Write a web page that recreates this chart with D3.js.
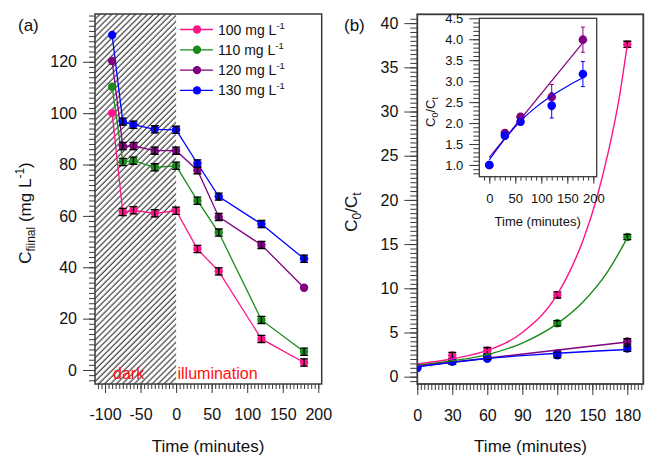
<!DOCTYPE html>
<html><head><meta charset="utf-8">
<script src="https://cdn.jsdelivr.net/npm/d3@7"></script>
<style>body{margin:0;background:#fff}svg{display:block;font-family:"Liberation Sans",Arial,sans-serif}</style>
</head><body><svg id="c" width="646" height="455"></svg>
<script>
// ---------- data ----------
const seriesLabels = ["100 mg L", "110 mg L", "120 mg L", "130 mg L"];
const seriesColors = ["#ff1489", "#1a8a1a", "#800080", "#0000ff"];

// panel (a): concentration vs time (dark -90..0, illumination 0..180)
const timeA = [-90, -75, -60, -30, 0, 30, 60, 120, 180];
const concA100 = [100, 61.5, 62.2, 61, 62, 47.1, 38.4, 12.1, 2.9];
const concA110 = [110.3, 81, 81.5, 78.9, 79.5, 65.9, 53.5, 19.5, 7.1];
const concA120 = [120.3, 87.2, 87.2, 85.4, 85.4, 77.8, 59.6, 48.7, 32];
const concA130 = [130.4, 96.7, 95.5, 93.7, 93.5, 80.4, 67.5, 56.8, 43.3];
const errA100 = [0, 1.4, 1.4, 1.4, 1.4, 1.4, 1.4, 1.4, 1.4];
const errA110 = [0, 1.4, 1.4, 1.4, 1.4, 1.4, 1.4, 1.4, 1.4];
const errA120 = [0, 1.4, 1.4, 1.4, 1.4, 1.4, 1.4, 1.4, 0];
const errA130 = [0, 1.4, 1.4, 1.4, 1.4, 1.4, 1.4, 1.4, 1.4];

// panel (b): C0/Ct vs time
const timeB = [0, 30, 60, 120, 180];
const ratioB100 = [1, 2.4, 2.95, 9.25, 37.6];
const ratioB110 = [1, 1.68, 2.2, 6.04, 15.8];
const ratioB120 = [1, 1.76, 2.15, 2.62, 3.99];
const ratioB130 = [1, 1.7, 2.03, 2.42, 3.17];
const errB100 = [0, 0.35, 0.35, 0.35, 0.35];
const errB110 = [0, 0.3, 0.3, 0.3, 0.3];
const errB120 = [0, 0.08, 0.08, 0.3, 0.3];
const errB130 = [0, 0.08, 0.08, 0.3, 0.3];

// fitted curves
const fitT100 = [0, 30, 60, 90, 120, 131, 142, 154, 164, 173, 180];
const fitV100 = [1.45, 2.03, 2.97, 5.0, 9.3, 12.0, 15.4, 20.3, 25.6, 31.5, 37.6];
const fitT110 = [0, 30, 60, 90, 120, 142, 162, 180];
const fitV110 = [1.3, 1.8, 2.5, 3.8, 6.0, 8.45, 11.65, 15.7];
const fitT120 = [0, 180];
const fitV120 = [1.18, 3.92];
const fitT130 = [0, 30, 60, 90, 120, 150, 180];
const fitV130 = [1.12, 1.62, 2.05, 2.38, 2.65, 2.88, 3.08];

// tick labels
const ticksAX = [-100, -50, 0, 50, 100, 150, 200];
const ticksAY = [0, 20, 40, 60, 80, 100, 120];
const ticksBX = [0, 30, 60, 90, 120, 150, 180];
const ticksBY = [0, 5, 10, 15, 20, 25, 30, 35, 40];
const ticksIX = [0, 50, 100, 150, 200];
const ticksIY = [1.0, 1.5, 2.0, 2.5, 3.0, 3.5, 4.0, 4.5];

// ---------- drawing ----------
const svg = d3.select("#c");
const FRAME = "#3a3a3a";
const zip = (t, v, e) => t.map((d, i) => ({t: d, v: v[i], e: e ? e[i] : 0}));

const seriesA = [zip(timeA, concA100, errA100), zip(timeA, concA110, errA110), zip(timeA, concA120, errA120), zip(timeA, concA130, errA130)];
const seriesB = [zip(timeB, ratioB100, errB100), zip(timeB, ratioB110, errB110), zip(timeB, ratioB120, errB120), zip(timeB, ratioB130, errB130)];
const fitsB = [zip(fitT100, fitV100), zip(fitT110, fitV110), zip(fitT120, fitV120), zip(fitT130, fitV130)];

function axes(x, y, o) {
  const [x0, x1] = x.range(), [y1, y0] = y.range();
  const g = svg.append("g");
  g.append("g").attr("transform", `translate(${x0},0)`)
    .call(d3.axisLeft(y).tickValues(o.minorY).tickSize(o.ySizeMinor).tickFormat(""))
    .call(s => s.select(".domain").remove());
  g.append("g").attr("transform", `translate(0,${y1})`)
    .call(d3.axisBottom(x).tickValues(o.minorX).tickSize(o.xSizeMinor).tickFormat(""))
    .call(s => s.select(".domain").remove());
  g.append("g").attr("transform", `translate(${x0},0)`)
    .call(d3.axisLeft(y).tickValues(o.ticksY).tickSize(o.ySize).tickPadding(o.yPad).tickFormat(o.fmtY || (d => d)))
    .call(s => s.select(".domain").remove());
  g.append("g").attr("transform", `translate(0,${y1})`)
    .call(d3.axisBottom(x).tickValues(o.ticksX).tickSize(o.xSize).tickPadding(o.xPad).tickFormat(d => d))
    .call(s => s.select(".domain").remove());
  g.selectAll(".tick line").attr("stroke", FRAME).attr("stroke-width", 1);
  g.selectAll(".tick text").attr("font-size", o.fs).attr("fill", "#111")
    .attr("font-family", '"Liberation Sans",Arial,sans-serif');
  g.append("rect").attr("x", x0).attr("y", y0).attr("width", x1 - x0).attr("height", y1 - y0)
    .attr("fill", "none").attr("stroke", FRAME).attr("stroke-width", o.fw);
  return g;
}

function markers(g, data, x, y, color, r, errColor, capW) {
  const gg = g.append("g");
  gg.selectAll("circle").data(data).join("circle")
    .attr("cx", d => x(d.t)).attr("cy", d => y(d.v)).attr("r", r).attr("fill", color);
  const eb = gg.selectAll("g.eb").data(data.filter(d => d.e > 0)).join("g").attr("class", "eb")
    .attr("stroke", errColor).attr("stroke-width", 1.3);
  eb.append("line").attr("x1", d => x(d.t)).attr("x2", d => x(d.t))
    .attr("y1", d => y(d.v - d.e)).attr("y2", d => y(d.v + d.e));
  eb.append("line").attr("x1", d => x(d.t) - capW).attr("x2", d => x(d.t) + capW)
    .attr("y1", d => y(d.v - d.e)).attr("y2", d => y(d.v - d.e));
  eb.append("line").attr("x1", d => x(d.t) - capW).attr("x2", d => x(d.t) + capW)
    .attr("y1", d => y(d.v + d.e)).attr("y2", d => y(d.v + d.e));
}

// ===== panel (a) =====
const xA = d3.scaleLinear().domain([-114.1, 204.8]).range([95, 321.7]);
const yA = d3.scaleLinear().domain([-5.45, 138.6]).range([384, 14]);

const defs = svg.append("defs");
const pat = defs.append("pattern").attr("id", "hatch").attr("patternUnits", "userSpaceOnUse")
  .attr("width", 4.2).attr("height", 4.2).attr("patternTransform", "rotate(45)");
pat.append("line").attr("x1", 1).attr("y1", 0).attr("x2", 1).attr("y2", 4.2)
  .attr("stroke", "#1a1a1a").attr("stroke-width", 1);
defs.append("clipPath").attr("id", "clipA").append("rect")
  .attr("x", 95).attr("y", 14).attr("width", 226.7).attr("height", 370);

svg.append("rect").attr("x", xA(xA.domain()[0])).attr("y", yA(yA.domain()[1]))
  .attr("width", xA(0) - xA(xA.domain()[0])).attr("height", yA(yA.domain()[0]) - yA(yA.domain()[1]))
  .attr("fill", "url(#hatch)");

axes(xA, yA, {
  ticksX: ticksAX, ticksY: ticksAY,
  minorX: d3.range(-110, 205, 5), minorY: d3.range(-4, 139, 2),
  xSize: 9, xSizeMinor: 5, ySize: 12, ySizeMinor: 6, xPad: 16, yPad: 6, fs: 16, fw: 1.5
});

const gA = svg.append("g").attr("clip-path", "url(#clipA)");
const lineA = d3.line().x(d => xA(d.t)).y(d => yA(d.v));
seriesA.forEach((s, i) => {
  gA.append("path").attr("d", lineA(s)).attr("fill", "none").attr("stroke", seriesColors[i]).attr("stroke-width", 1.3);
});
seriesA.forEach((s, i) => markers(gA, s, xA, yA, seriesColors[i], 4.2, "#000", 4));

svg.append("text").attr("x", 113).attr("y", 379).attr("font-size", 16).attr("fill", "#ff1010").text("dark");
svg.append("text").attr("x", 177.5).attr("y", 379).attr("font-size", 16).attr("fill", "#ff1010").text("illumination");

// legend
const leg = svg.append("g");
seriesLabels.forEach((lab, i) => {
  const yy = 29.5 + i * 20.3;
  leg.append("line").attr("x1", 180).attr("x2", 213).attr("y1", yy).attr("y2", yy)
    .attr("stroke", seriesColors[i]).attr("stroke-width", 1.3);
  leg.append("circle").attr("cx", 197).attr("cy", yy).attr("r", 4.2).attr("fill", seriesColors[i]);
  const t = leg.append("text").attr("x", 218).attr("y", yy + 5).attr("font-size", 14).attr("fill", "#111");
  t.append("tspan").text(lab);
  t.append("tspan").attr("dy", -6).attr("font-size", 9.5).text("-1");
});

svg.append("text").attr("x", 18).attr("y", 31).attr("font-size", 17).attr("fill", "#111").text("(a)");
svg.append("text").attr("x", xA(45)).attr("y", 452).attr("text-anchor", "middle").attr("font-size", 17)
  .attr("fill", "#111").text("Time (minutes)");
{
  const t = svg.append("text").attr("transform", "translate(31,213) rotate(-90)")
    .attr("text-anchor", "middle").attr("font-size", 17).attr("fill", "#111");
  t.append("tspan").text("C");
  t.append("tspan").attr("dy", 4).attr("font-size", 12).text("fiinal");
  t.append("tspan").attr("dy", -4).text(" (mg L");
  t.append("tspan").attr("dy", -7).attr("font-size", 12).text("-1");
  t.append("tspan").attr("dy", 7).text(")");
}

// ===== panel (b) =====
const xB = d3.scaleLinear().domain([0, 193.7]).range([417.3, 643.3]);
const yB = d3.scaleLinear().domain([-0.83, 41.0]).range([384, 14.3]);
defs.append("clipPath").attr("id", "clipB").append("rect")
  .attr("x", 417.3).attr("y", 14.3).attr("width", 226).attr("height", 369.7);

axes(xB, yB, {
  ticksX: ticksBX, ticksY: ticksBY,
  minorX: d3.range(0, 194, 3), minorY: d3.range(-0.5, 41, 0.5),
  xSize: 11, xSizeMinor: 6, ySize: 13, ySizeMinor: 7, xPad: 14.6, yPad: 6, fs: 16, fw: 1.8
});

const gB = svg.append("g").attr("clip-path", "url(#clipB)");
seriesB.forEach((s, i) => markers(gB, s, xB, yB, seriesColors[i], 4.2, "#000", 4));
const lineB = d3.line().x(d => xB(d.t)).y(d => yB(d.v)).curve(d3.curveMonotoneX);
fitsB.forEach((s, i) => {
  gB.append("path").attr("d", lineB(s)).attr("fill", "none").attr("stroke", seriesColors[i]).attr("stroke-width", 1.4);
});

svg.append("text").attr("x", 344).attr("y", 31).attr("font-size", 17).attr("fill", "#111").text("(b)");
svg.append("text").attr("x", xB(97)).attr("y", 452).attr("text-anchor", "middle").attr("font-size", 17)
  .attr("fill", "#111").text("Time (minutes)");
{
  const t = svg.append("text").attr("transform", "translate(357,212) rotate(-90)")
    .attr("text-anchor", "middle").attr("font-size", 17).attr("fill", "#111");
  t.append("tspan").text("C");
  t.append("tspan").attr("dy", 4).attr("font-size", 12).text("0");
  t.append("tspan").attr("dy", -4).text("/C");
  t.append("tspan").attr("dy", 4).attr("font-size", 12).text("t");
}

// ===== inset =====
const xI = d3.scaleLinear().domain([-19.2, 206.5]).range([479.3, 596.7]);
const yI = d3.scaleLinear().domain([0.72, 4.5]).range([176.7, 18.3]);
svg.append("rect").attr("x", 479.3).attr("y", 18.3).attr("width", 117.4).attr("height", 158.4).attr("fill", "#fff");
defs.append("clipPath").attr("id", "clipI").append("rect")
  .attr("x", 479.3).attr("y", 18.3).attr("width", 117.4).attr("height", 158.4);
axes(xI, yI, {
  ticksX: ticksIX, ticksY: ticksIY, fmtY: d3.format(".1f"),
  minorX: d3.range(-10, 207, 10), minorY: d3.range(0.8, 4.5, 0.1),
  xSize: 7, xSizeMinor: 4, ySize: 10, ySizeMinor: 6, xPad: 10, yPad: 6, fs: 13, fw: 1.3
});
const gI = svg.append("g").attr("clip-path", "url(#clipI)");
[2, 3].forEach(i => {
  const s = seriesB[i].filter(d => d.e > 0);
  const gg = gI.append("g").attr("stroke", seriesColors[i]).attr("stroke-width", 1);
  gg.selectAll("line.e").data(s).join("line").attr("class", "e")
    .attr("x1", d => xI(d.t)).attr("x2", d => xI(d.t))
    .attr("y1", d => yI(d.v - d.e)).attr("y2", d => yI(d.v + d.e));
  gg.selectAll("line.c1").data(s).join("line").attr("class", "c1")
    .attr("x1", d => xI(d.t) - 2).attr("x2", d => xI(d.t) + 2)
    .attr("y1", d => yI(d.v + d.e)).attr("y2", d => yI(d.v + d.e));
  gg.selectAll("line.c2").data(s).join("line").attr("class", "c2")
    .attr("x1", d => xI(d.t) - 2).attr("x2", d => xI(d.t) + 2)
    .attr("y1", d => yI(d.v - d.e)).attr("y2", d => yI(d.v - d.e));
});
[2, 3].forEach(i => {
  gI.append("g").selectAll("circle").data(seriesB[i]).join("circle")
    .attr("cx", d => xI(d.t)).attr("cy", d => yI(d.v)).attr("r", 4.3).attr("fill", seriesColors[i]);
});
const lineI = d3.line().x(d => xI(d.t)).y(d => yI(d.v)).curve(d3.curveMonotoneX);
[2, 3].forEach(i => {
  gI.append("path").attr("d", lineI(fitsB[i])).attr("fill", "none").attr("stroke", seriesColors[i]).attr("stroke-width", 1.2);
});
svg.append("text").attr("x", xI(93)).attr("y", 226).attr("text-anchor", "middle").attr("font-size", 13)
  .attr("fill", "#111").text("Time (minutes)");
{
  const t = svg.append("text").attr("transform", "translate(435,112) rotate(-90)")
    .attr("text-anchor", "middle").attr("font-size", 13).attr("fill", "#111");
  t.append("tspan").text("C");
  t.append("tspan").attr("dy", 3).attr("font-size", 9).text("0");
  t.append("tspan").attr("dy", -3).text("/C");
  t.append("tspan").attr("dy", 3).attr("font-size", 9).text("t");
}
</script></body></html>
